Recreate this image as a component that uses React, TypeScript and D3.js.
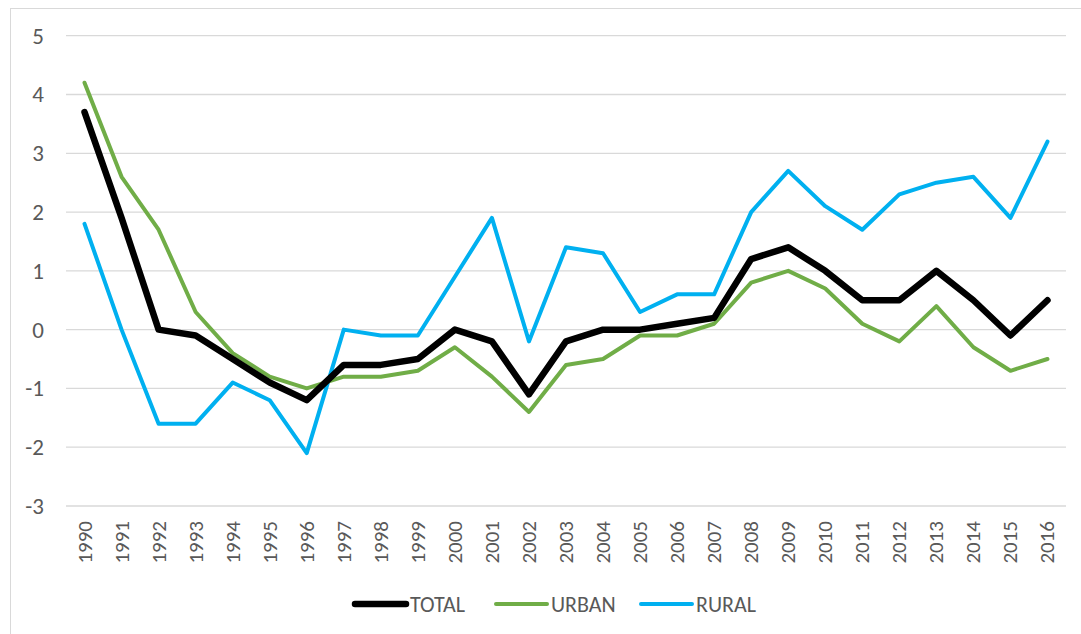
import React, { useEffect, useRef } from 'react';
import * as d3 from 'd3';

const years = ['1990','1991','1992','1993','1994','1995','1996','1997','1998','1999','2000','2001','2002','2003','2004','2005','2006','2007','2008','2009','2010','2011','2012','2013','2014','2015','2016'];
const total = [3.7,1.9,0,-0.1,-0.5,-0.9,-1.2,-0.6,-0.6,-0.5,0,-0.2,-1.1,-0.2,0,0,0.1,0.2,1.2,1.4,1.0,0.5,0.5,1.0,0.5,-0.1,0.5];
const urban = [4.2,2.6,1.7,0.3,-0.4,-0.8,-1.0,-0.8,-0.8,-0.7,-0.3,-0.8,-1.4,-0.6,-0.5,-0.1,-0.1,0.1,0.8,1.0,0.7,0.1,-0.2,0.4,-0.3,-0.7,-0.5];
const rural = [1.8,0,-1.6,-1.6,-0.9,-1.2,-2.1,0,-0.1,-0.1,0.9,1.9,-0.2,1.4,1.3,0.3,0.6,0.6,2.0,2.7,2.1,1.7,2.3,2.5,2.6,1.9,3.2];
const yTicks = [5,4,3,2,1,0,-1,-2,-3];

const seriesNames = ['TOTAL','URBAN','RURAL'];
const seriesColors = ['#000000','#70AD47','#00B0F0'];
const seriesWidths = [6.5,4,4];

const FONT = "Carlito, Calibri, 'Open Sans', sans-serif";

const App = () => {
  const ref = useRef<SVGSVGElement>(null);

  useEffect(() => {
    const svg = d3.select(ref.current);
    svg.selectAll('*').remove();

    const left = 66, right = 1066, top = 35.7, bottom = 506;

    // frame
    svg.append('rect').attr('x', 10.5).attr('y', 8.5).attr('width', 1100).attr('height', 700)
      .attr('fill', 'white').attr('stroke', '#D9D9D9').attr('stroke-width', 1);

    const x = d3.scaleBand().domain(years).range([left, right]);
    const y = d3.scaleLinear().domain([-3, 5]).range([bottom, top]);

    // gridlines
    svg.append('g').selectAll('line').data(yTicks).enter().append('line')
      .attr('x1', left).attr('x2', right)
      .attr('y1', d => y(d)).attr('y2', d => y(d))
      .attr('stroke', '#D9D9D9').attr('stroke-width', 1.3);

    // y labels
    svg.append('g').selectAll('text').data(yTicks).enter().append('text')
      .text(d => d)
      .attr('x', 44).attr('y', d => y(d))
      .attr('text-anchor', 'end').attr('dominant-baseline', 'central')
      .style('font-family', FONT).style('font-size', '23px').style('fill', '#595959');

    // x labels
    svg.append('g').selectAll('text').data(years).enter().append('text')
      .text(d => d)
      .attr('transform', d => `translate(${(x(d) as number) + x.bandwidth() / 2},521) rotate(-90)`)
      .attr('text-anchor', 'end').attr('dominant-baseline', 'central')
      .style('font-family', FONT).style('font-size', '21px').style('fill', '#595959');

    const data = [total, urban, rural];
    const line = d3.line<number>()
      .x((d, i) => (x(years[i]) as number) + x.bandwidth() / 2)
      .y(d => y(d));

    // draw rural, urban, then total on top
    [2, 1, 0].forEach(k => {
      svg.append('path').datum(data[k])
        .attr('d', line)
        .attr('fill', 'none')
        .attr('stroke', seriesColors[k])
        .attr('stroke-width', seriesWidths[k])
        .attr('stroke-linejoin', 'round')
        .attr('stroke-linecap', 'round');
    });

    // legend
    const legX = [355, 496, 641];
    const legY = 604;
    seriesNames.forEach((name, k) => {
      svg.append('line')
        .attr('x1', legX[k]).attr('x2', legX[k] + 51)
        .attr('y1', legY).attr('y2', legY)
        .attr('stroke', seriesColors[k]).attr('stroke-width', seriesWidths[k])
        .attr('stroke-linecap', 'round');
      svg.append('text').text(name)
        .attr('x', legX[k] + 55).attr('y', legY)
        .attr('dominant-baseline', 'central')
        .style('font-family', FONT).style('font-size', '22px').style('fill', '#595959');
    });
  }, []);

  return (
    <div style={{ position: 'absolute', left: 0, top: 0 }}>
      <svg ref={ref} width={1081} height={634} style={{ display: 'block' }}></svg>
    </div>
  );
};

export default App;
